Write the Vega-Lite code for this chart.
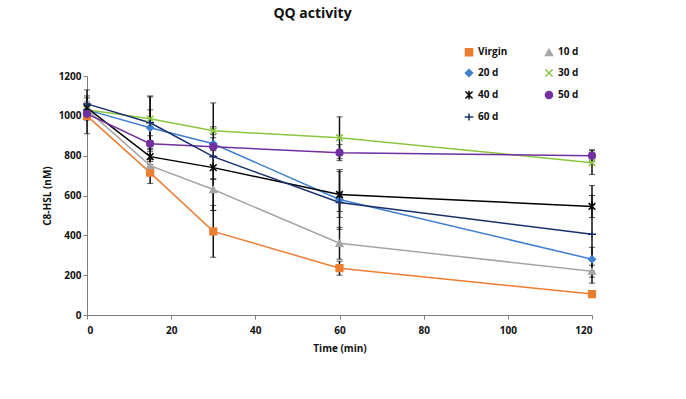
{
  "$schema": "https://vega.github.io/schema/vega-lite/v6.json",
  "width": 505,
  "height": 239,
  "autosize": {"type": "none"},
  "padding": {"left": 87, "top": 76, "right": 94, "bottom": 84},
  "background": "white",
  "title": {"text": "QQ activity", "anchor": "middle", "dx": -27, "offset": 26, "fontSize": 14, "fontWeight": "bold", "font": "Open Sans, Arial", "color": "#111"},
  "config": {
    "view": {"stroke": null},
    "font": "Open Sans, Arial",
    "axis": {"grid": false, "labelOverlap": false, "domainColor": "#7f7f7f", "tickColor": "#7f7f7f", "labelFontWeight": "bold", "labelFontSize": 10, "labelColor": "#111", "titleFontWeight": "bold", "titleFontSize": 10, "titleColor": "#111", "tickSize": 4},
    "legend": {"labelFontWeight": "bold", "labelFontSize": 10, "labelColor": "#111"}
  },
  "data": {"values": [
    {"s": "Virgin", "t": 0, "v": 1000, "lo": 910, "hi": 1090},
    {"s": "Virgin", "t": 15, "v": 715, "lo": 660, "hi": 770},
    {"s": "Virgin", "t": 30, "v": 420, "lo": 290, "hi": 550},
    {"s": "Virgin", "t": 60, "v": 235, "lo": 200, "hi": 270},
    {"s": "Virgin", "t": 120, "v": 105, "lo": 95, "hi": 115},
    {"s": "10 d", "t": 0, "v": 1030, "lo": 1000, "hi": 1060},
    {"s": "10 d", "t": 15, "v": 750, "lo": 720, "hi": 780},
    {"s": "10 d", "t": 30, "v": 630, "lo": 525, "hi": 685},
    {"s": "10 d", "t": 60, "v": 360, "lo": 280, "hi": 440},
    {"s": "10 d", "t": 120, "v": 220, "lo": 190, "hi": 250},
    {"s": "20 d", "t": 0, "v": 1030, "lo": 990, "hi": 1070},
    {"s": "20 d", "t": 15, "v": 940, "lo": 850, "hi": 1030},
    {"s": "20 d", "t": 30, "v": 860, "lo": 830, "hi": 890},
    {"s": "20 d", "t": 60, "v": 580, "lo": 430, "hi": 730},
    {"s": "20 d", "t": 120, "v": 280, "lo": 220, "hi": 340},
    {"s": "30 d", "t": 0, "v": 1030, "lo": 1010, "hi": 1050},
    {"s": "30 d", "t": 15, "v": 985, "lo": 875, "hi": 1095},
    {"s": "30 d", "t": 30, "v": 925, "lo": 905, "hi": 945},
    {"s": "30 d", "t": 60, "v": 890, "lo": 785, "hi": 995},
    {"s": "30 d", "t": 120, "v": 765, "lo": 705, "hi": 825},
    {"s": "40 d", "t": 0, "v": 1040, "lo": 980, "hi": 1100},
    {"s": "40 d", "t": 15, "v": 795, "lo": 755, "hi": 835},
    {"s": "40 d", "t": 30, "v": 740, "lo": 680, "hi": 800},
    {"s": "40 d", "t": 60, "v": 605, "lo": 490, "hi": 720},
    {"s": "40 d", "t": 120, "v": 545, "lo": 490, "hi": 600},
    {"s": "50 d", "t": 0, "v": 1010, "lo": 980, "hi": 1040},
    {"s": "50 d", "t": 15, "v": 860, "lo": 820, "hi": 900},
    {"s": "50 d", "t": 30, "v": 845, "lo": 825, "hi": 865},
    {"s": "50 d", "t": 60, "v": 815, "lo": 775, "hi": 855},
    {"s": "50 d", "t": 120, "v": 800, "lo": 770, "hi": 830},
    {"s": "60 d", "t": 0, "v": 1060, "lo": 990, "hi": 1130},
    {"s": "60 d", "t": 15, "v": 965, "lo": 830, "hi": 1100},
    {"s": "60 d", "t": 30, "v": 795, "lo": 525, "hi": 1065},
    {"s": "60 d", "t": 60, "v": 565, "lo": 520, "hi": 610},
    {"s": "60 d", "t": 120, "v": 405, "lo": 160, "hi": 650}
  ]},
  "encoding": {
    "x": {"field": "t", "type": "quantitative", "title": "Time (min)",
          "scale": {"domain": [0, 120], "nice": false, "zero": false},
          "axis": {"values": [0, 20, 40, 60, 80, 100, 120], "format": "d", "labelPadding": 6, "titlePadding": 8, "labelOverlap": false}}
  },
  "resolve": {"legend": {"color": "independent", "stroke": "independent", "shape": "independent"}},
  "layer": [
    {
      "mark": {"type": "errorbar", "ticks": {"size": 6, "color": "#111"}, "rule": {"color": "#111", "strokeWidth": 1.5}},
      "encoding": {
        "y": {"field": "lo", "type": "quantitative", "title": "C8-HSL (nM)",
              "scale": {"domain": [0, 1200], "nice": false},
              "axis": {"values": [0, 200, 400, 600, 800, 1000, 1200], "format": "d", "titlePadding": 6, "labelOverlap": false}},
        "y2": {"field": "hi"}
      }
    },
    {
      "mark": {"type": "line", "strokeWidth": 1.5},
      "encoding": {
        "y": {"field": "v", "type": "quantitative", "title": "C8-HSL (nM)",
              "axis": {"values": [0, 200, 400, 600, 800, 1000, 1200], "format": "d", "titlePadding": 6, "labelOverlap": false}},
        "color": {"field": "s", "type": "nominal", "legend": null,
                  "scale": {"domain": ["Virgin", "10 d", "20 d", "30 d", "40 d", "50 d", "60 d"],
                            "range": ["#ED7D31", "#A5A5A5", "#3F80D0", "#8CC63F", "#000000", "#7030A0", "#1A2F6B"]}}
      }
    },
    {
      "mark": {"type": "point", "filled": true, "size": 45, "strokeWidth": 1.5, "opacity": 1},
      "encoding": {
        "y": {"field": "v", "type": "quantitative", "title": "C8-HSL (nM)",
              "axis": {"values": [0, 200, 400, 600, 800, 1000, 1200], "format": "d", "titlePadding": 6, "labelOverlap": false}},
        "color": {"field": "s", "type": "nominal",
                  "legend": {"title": null, "orient": "none", "direction": "horizontal", "legendX": 377, "legendY": -29, "columns": 2, "columnPadding": 34, "rowPadding": 7, "symbolSize": 50, "symbolStrokeWidth": 1.5, "labelOffset": 4}},
        "stroke": {"field": "s", "type": "nominal",
                   "scale": {"domain": ["Virgin", "10 d", "20 d", "30 d", "40 d", "50 d", "60 d"],
                             "range": ["#ED7D31", "#A5A5A5", "#3F80D0", "#8CC63F", "#000000", "#7030A0", "#1A2F6B"]},
                   "legend": {"title": null, "orient": "none", "direction": "horizontal", "legendX": 377, "legendY": -29, "columns": 2, "columnPadding": 34, "rowPadding": 7, "symbolSize": 50, "symbolStrokeWidth": 1.5, "labelOffset": 4}},
        "shape": {"field": "s", "type": "nominal",
                  "scale": {"domain": ["Virgin", "10 d", "20 d", "30 d", "40 d", "50 d", "60 d"],
                            "range": ["square", "triangle-up", "diamond", "M-1,-1L1,1M-1,1L1,-1", "M-1,-1L1,1M-1,1L1,-1M0,-1.2L0,1.2", "circle", "M-1.2,0L1.2,0M0,-1L0,1"]},
                  "legend": {"title": null, "orient": "none", "direction": "horizontal", "legendX": 377, "legendY": -29, "columns": 2, "columnPadding": 34, "rowPadding": 7, "symbolSize": 50, "symbolStrokeWidth": 1.5, "labelOffset": 4}}
      }
    }
  ]
}
